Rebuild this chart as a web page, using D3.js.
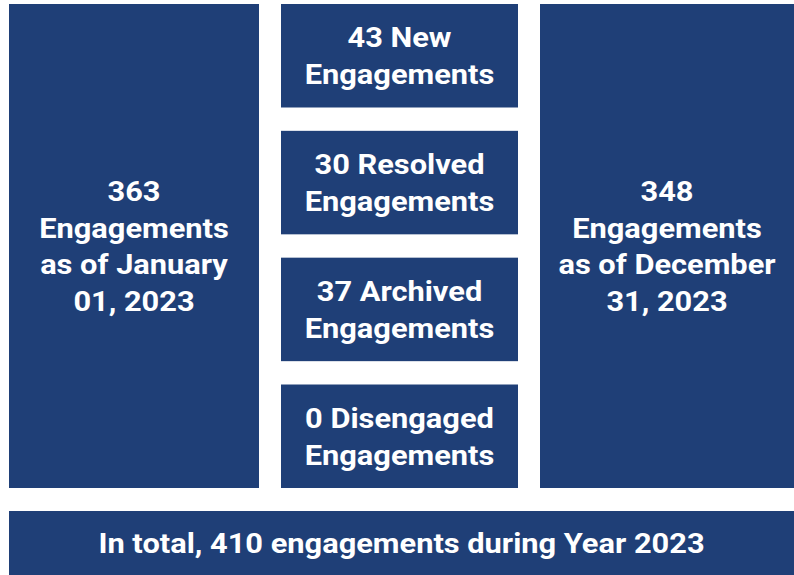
<!DOCTYPE html>
<html>
<head>
<meta charset="utf-8">
<script src="https://cdn.jsdelivr.net/npm/d3@7"></script>
<style>
  body { margin: 0; background: #fff; }
  svg { display: block; font-family: Roboto, sans-serif; }
</style>
</head>
<body>
<script>
document.addEventListener("DOMContentLoaded", function () {
  // engagement counts for the year
  const year = 2023;
  const startCount = 363;
  const startDate = ["January", "01, 2023"];
  const endCount = 348;
  const endDate = ["December", "31, 2023"];
  const changeLabels = ["New", "Resolved", "Archived", "Disengaged"];
  const changeValues = [43, 30, 37, 0];
  const totalCount = 410;

  const width = 794;
  const height = 575;
  const fill = "#1f3f77";

  const svg = d3.select("body")
    .append("svg")
    .attr("width", width)
    .attr("height", height);

  // column edges: left box, middle stack, right box
  const cols = [
    { x0: 9, x1: 259 },
    { x0: 281, x1: 518 },
    { x0: 540, x1: 794 }
  ];
  const top = 4, bottom = 488;

  const y = d3.scaleBand()
    .domain(changeLabels)
    .range([top, bottom])
    .paddingInner(0.184);

  const fontSize = 28;
  const lineH = 36.7;
  const stretch = 1.1; // text in the original is a bit wider than Roboto

  function drawBox(x0, y0, w, h, lines) {
    svg.append("rect")
      .attr("x", x0).attr("y", y0)
      .attr("width", w).attr("height", h)
      .attr("fill", fill);
    const cx = x0 + w / 2, cy = y0 + h / 2;
    const t = svg.append("text")
      .attr("transform", `translate(${cx},${cy}) scale(${stretch},1)`)
      .attr("text-anchor", "middle")
      .attr("fill", "#fff")
      .attr("font-weight", "bold")
      .attr("font-size", fontSize);
    lines.forEach((l, i) => {
      t.append("tspan")
        .attr("x", 0)
        .attr("y", (i - (lines.length - 1) / 2) * lineH)
        .attr("dy", "0.36em")
        .text(l);
    });
  }

  drawBox(cols[0].x0, top, cols[0].x1 - cols[0].x0, bottom - top,
    [String(startCount), "Engagements", "as of " + startDate[0], startDate[1]]);

  changeLabels.forEach((lab, i) => {
    drawBox(cols[1].x0, y(lab), cols[1].x1 - cols[1].x0, y.bandwidth(),
      [changeValues[i] + " " + lab, "Engagements"]);
  });

  drawBox(cols[2].x0, top, cols[2].x1 - cols[2].x0, bottom - top,
    [String(endCount), "Engagements", "as of " + endDate[0], endDate[1]]);

  drawBox(9, 511, 785, 64,
    [`In total, ${totalCount} engagements during Year ${year}`]);
});
</script>
</body>
</html>
